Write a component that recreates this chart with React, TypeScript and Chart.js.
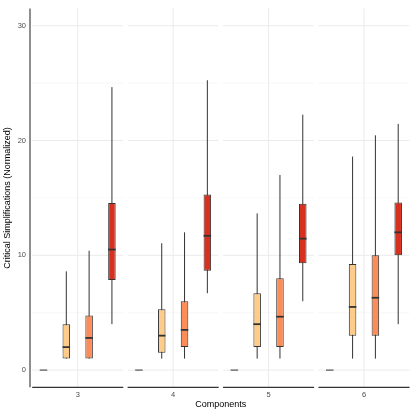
import React, { useEffect, useRef } from 'react';
import { Chart, registerables } from 'chart.js';

Chart.register(...registerables);

// ---- data ----
const components = ['3', '4', '5', '6'];
const seriesNames = ['Group 1', 'Group 2', 'Group 3', 'Group 4'];
const seriesColors = ['#FEF0D9', '#FDCC8A', '#FC8D59', '#D7301F'];
const yTicks = [0, 10, 20, 30];
const yMinorLines = [5, 15, 25];

// per-series stats, one value per component
const g1Min = [0, 0, 0, 0];
const g1Q1 = [0, 0, 0, 0];
const g1Med = [0, 0, 0, 0];
const g1Q3 = [0, 0, 0, 0];
const g1Max = [0, 0, 0, 0];

const g2Min = [1, 1, 1, 1];
const g2Q1 = [1, 1.5, 2, 3];
const g2Med = [2, 3, 4, 5.5];
const g2Q3 = [4, 5.3, 6.7, 9.25];
const g2Max = [8.6, 11.05, 13.65, 18.6];

const g3Min = [1, 1, 1, 1];
const g3Q1 = [1, 2, 2, 3];
const g3Med = [2.8, 3.5, 4.65, 6.3];
const g3Q3 = [4.75, 6, 8, 10];
const g3Max = [10.4, 12, 17, 20.45];

const g4Min = [4, 6.7, 6, 4];
const g4Q1 = [7.85, 8.65, 9.3, 10];
const g4Med = [10.5, 11.7, 11.45, 12];
const g4Q3 = [14.55, 15.3, 14.5, 14.6];
const g4Max = [24.65, 25.25, 22.25, 21.45];

const mins = [g1Min, g2Min, g3Min, g4Min];
const q1s = [g1Q1, g2Q1, g3Q1, g4Q1];
const meds = [g1Med, g2Med, g3Med, g4Med];
const q3s = [g1Q3, g2Q3, g3Q3, g4Q3];
const maxs = [g1Max, g2Max, g3Max, g4Max];

const LINE = '#333333';
const GRID = '#EBEBEB';

const boxPlugin = {
  id: 'boxParts',
  beforeDatasetsDraw(chart: any) {
    const { ctx, chartArea, scales } = chart;
    const x = scales.x;
    const y = scales.y;
    const cw = (chartArea.right - chartArea.left) / components.length;
    ctx.save();
    components.forEach((_, i) => {
      const cx = x.getPixelForValue(i);
      const l = cx - cw * 0.477;
      const r = cx + cw * 0.477;
      ctx.strokeStyle = '#F3F3F3';
      ctx.lineWidth = 0.6;
      yMinorLines.forEach((v) => {
        const py = y.getPixelForValue(v);
        ctx.beginPath();
        ctx.moveTo(l, py);
        ctx.lineTo(r, py);
        ctx.stroke();
      });
      ctx.strokeStyle = GRID;
      ctx.lineWidth = 1;
      yTicks.forEach((v) => {
        const py = y.getPixelForValue(v);
        ctx.beginPath();
        ctx.moveTo(l, py);
        ctx.lineTo(r, py);
        ctx.stroke();
      });
      ctx.beginPath();
      ctx.moveTo(cx, chartArea.top);
      ctx.lineTo(cx, chartArea.bottom);
      ctx.stroke();
      // x axis line per panel
      ctx.strokeStyle = LINE;
      ctx.lineWidth = 1.2;
      ctx.beginPath();
      ctx.moveTo(l, chartArea.bottom);
      ctx.lineTo(r, chartArea.bottom);
      ctx.stroke();
    });
    // y axis line
    ctx.strokeStyle = '#444444';
    ctx.lineWidth = 1.2;
    ctx.beginPath();
    ctx.moveTo(chartArea.left, chartArea.top);
    ctx.lineTo(chartArea.left, chartArea.bottom);
    ctx.stroke();
    // whiskers
    ctx.strokeStyle = LINE;
    ctx.lineWidth = 1;
    chart.data.datasets.forEach((_: any, di: number) => {
      const meta = chart.getDatasetMeta(di);
      meta.data.forEach((el: any, j: number) => {
        ctx.beginPath();
        ctx.moveTo(el.x, y.getPixelForValue(mins[di][j]));
        ctx.lineTo(el.x, y.getPixelForValue(maxs[di][j]));
        ctx.stroke();
      });
    });
    ctx.restore();
  },
  afterDatasetsDraw(chart: any) {
    const { ctx, scales } = chart;
    const y = scales.y;
    ctx.save();
    ctx.strokeStyle = LINE;
    chart.data.datasets.forEach((_: any, di: number) => {
      const meta = chart.getDatasetMeta(di);
      meta.data.forEach((el: any, j: number) => {
        const py = y.getPixelForValue(meds[di][j]);
        const hw = el.width / 2;
        ctx.lineWidth = di === 0 ? 1 : 1.8;
        ctx.beginPath();
        ctx.moveTo(el.x - hw, py);
        ctx.lineTo(el.x + hw, py);
        ctx.stroke();
      });
    });
    ctx.restore();
  },
};

export default function App() {
  const ref = useRef<HTMLCanvasElement | null>(null);
  useEffect(() => {
    if (!ref.current) return;
    const chart = new Chart(ref.current, {
      type: 'bar',
      data: {
        labels: components,
        datasets: seriesNames.map((name, di) => ({
          label: name,
          data: components.map((_, j) => [q1s[di][j], q3s[di][j]]),
          backgroundColor: seriesColors[di],
          borderColor: LINE,
          borderWidth: 1,
          borderSkipped: false,
          categoryPercentage: 0.956,
          barPercentage: 0.33,
        })),
      },
      options: {
        animation: false,
        responsive: true,
        maintainAspectRatio: false,
        layout: { padding: { left: 0, top: 3, right: 3.3, bottom: 0 } },
        plugins: { legend: { display: false }, tooltip: { enabled: false } },
        scales: {
          x: {
            type: 'category',
            grid: { display: false, drawTicks: false },
            border: { display: false },
            ticks: {
              color: '#4D4D4D',
              font: { family: 'Liberation Sans', size: 7.5 },
              padding: 3.5,
            },
            title: {
              display: true,
              text: 'Components',
              color: '#000000',
              font: { family: 'Liberation Sans', size: 9 },
              padding: { top: 0, bottom: 4.6 },
            },
            afterFit: (s: any) => {
              s.height = 27.7;
            },
          },
          y: {
            min: -1.5,
            max: 31.5,
            grid: { display: false, drawTicks: false },
            border: { display: false },
            afterBuildTicks: (s: any) => {
              s.ticks = yTicks.map((v) => ({ value: v }));
            },
            ticks: {
              color: '#4D4D4D',
              font: { family: 'Liberation Sans', size: 7.5 },
              padding: 4,
            },
            title: {
              display: true,
              text: 'Critical Simplifications (Normalized)',
              color: '#000000',
              font: { family: 'Liberation Sans', size: 9 },
              padding: { top: 2.5, bottom: 0 },
            },
            afterFit: (s: any) => {
              s.width = 30;
            },
          },
        },
      },
      plugins: [boxPlugin],
    } as any);
    return () => chart.destroy();
  }, []);
  return (
    <div style={{ position: 'fixed', left: 0, top: 0, width: 415, height: 415, background: '#fff' }}>
      <canvas ref={ref} />
    </div>
  );
}
